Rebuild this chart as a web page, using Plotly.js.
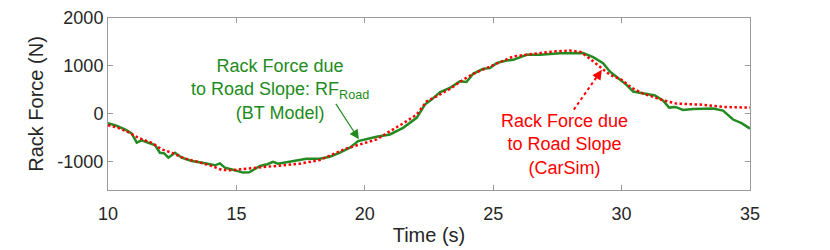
<!DOCTYPE html>
<html>
<head>
<meta charset="utf-8">
<script src="https://cdn.plot.ly/plotly-3.0.1.min.js"></script>
<style>html,body{margin:0;padding:0;background:#fff;}#chart{width:830px;height:250px;}</style>
</head>
<body>
<div id="chart"></div>
<script>
// BT Model rack force (green, solid)
const timeBT = [10.0, 10.3, 10.66, 10.92, 11.12, 11.31, 11.57, 11.83, 12.02, 12.19, 12.35, 12.61, 12.87, 13.26, 13.78, 14.16, 14.36, 14.55, 14.94, 15.26, 15.5, 15.79, 15.92, 16.2, 16.43, 16.62, 17.08, 17.21, 17.73, 18.25, 18.64, 19.03, 19.42, 19.74, 20.07, 20.46, 20.98, 21.49, 22.02, 22.34, 22.6, 22.92, 23.31, 23.7, 23.96, 24.22, 24.61, 24.87, 25.13, 25.52, 25.78, 26.3, 26.82, 27.6, 28.5, 28.89, 29.28, 29.54, 29.75, 29.93, 30.19, 30.45, 30.97, 31.3, 31.62, 31.85, 32.1, 32.39, 32.78, 33.56, 33.95, 34.34, 34.67, 35.0];
const forceBT = [-200, -250, -333, -417, -610, -562, -610, -660, -820, -833, -923, -820, -923, -993, -1042, -1083, -1042, -1132, -1187, -1236, -1230, -1146, -1097, -1060, -1010, -1049, -1007, -993, -944, -944, -903, -819, -715, -576, -528, -486, -437, -299, -90, 187, 292, 444, 535, 674, 660, 833, 937, 951, 1055, 1111, 1125, 1229, 1229, 1264, 1265, 1181, 1056, 881, 790, 720, 600, 460, 417, 380, 270, 125, 139, 75, 97, 104, 62, -125, -200, -315];

// CarSim rack force (red, dotted)
const timeCS = [10.0, 10.4, 10.79, 11.18, 11.7, 12.09, 12.48, 13.0, 13.52, 14.04, 14.43, 14.82, 15.14, 15.92, 16.7, 17.47, 18.25, 18.77, 19.29, 19.81, 20.46, 20.98, 21.49, 22.02, 22.41, 22.8, 23.31, 23.83, 24.22, 24.74, 25.39, 25.78, 26.56, 27.34, 27.98, 28.4, 28.76, 29.2, 29.54, 30.0, 30.4, 30.84, 31.62, 32.14, 33.05, 33.95, 34.47, 35.0];
const forceCS = [-243, -299, -389, -507, -611, -750, -819, -944, -1014, -1097, -1180, -1187, -1167, -1132, -1097, -1049, -972, -854, -729, -646, -542, -368, -208, -21, 257, 361, 514, 708, 833, 951, 1111, 1194, 1250, 1298, 1319, 1290, 1150, 951, 812, 708, 535, 417, 278, 208, 187, 139, 139, 125];

const xTicks = [10, 15, 20, 25, 30, 35];
const xTickText = ['10', '15', '20', '25', '30', '35'];
const yTicks = [-1000, 0, 1000, 2000];
const yTickText = ['-1000', '0', '1000', '2000'];

const GREEN = 'rgb(34,139,34)';
const RED = 'rgb(255,0,0)';
const FONT = 'Liberation Sans, Arial, Helvetica, sans-serif';

const traces = [
  {x: timeBT, y: forceBT, type: 'scatter', mode: 'lines',
   line: {color: GREEN, width: 2.5}, hoverinfo: 'skip'},
  {x: timeCS, y: forceCS, type: 'scatter', mode: 'lines',
   line: {color: RED, width: 2.5, dash: '2.5px,2.5px'}, hoverinfo: 'skip'}
];

const axisCommon = {
  showgrid: false, zeroline: false, showline: true, mirror: 'ticks',
  linecolor: '#9a9a9a', linewidth: 1, ticks: 'inside', ticklen: 5,
  tickcolor: '#9a9a9a', tickfont: {family: FONT, size: 18, color: '#262626'}
};

const layout = {
  width: 830, height: 250,
  margin: {l: 108, r: 80, t: 18, b: 60},
  paper_bgcolor: '#fff', plot_bgcolor: '#fff',
  showlegend: false,
  font: {family: FONT},
  xaxis: Object.assign({}, axisCommon, {
    range: [10, 35], tickvals: xTicks, ticktext: xTickText, ticklabelstandoff: 7,
    title: {text: 'Time (s)', font: {family: FONT, size: 20, color: '#262626'}, standoff: 5}
  }),
  yaxis: Object.assign({}, axisCommon, {
    range: [-1600, 2000], tickvals: yTicks, ticktext: yTickText,
    title: {text: 'Rack Force (N)', font: {family: FONT, size: 20, color: '#262626'}, standoff: 8}
  }),
  shapes: [
    {type: 'line', xref: 'x', yref: 'y', x0: 28.14, y0: 83, x1: 29.05, y1: 780,
     line: {color: RED, width: 2, dash: 'dot'}}
  ],
  annotations: [
    {x: 16.7, y: 500, xref: 'x', yref: 'y', xanchor: 'center', yanchor: 'middle',
     text: 'Rack Force due<br>to Road Slope: RF<sub>Road</sub><br>(BT Model)',
     showarrow: false, align: 'center', font: {family: FONT, size: 18, color: GREEN}},
    {x: 19.77, y: -540, xref: 'x', yref: 'y', ax: -24, ay: -37, text: '',
     showarrow: true, arrowhead: 2, arrowsize: 1.6, arrowwidth: 1.2, arrowcolor: GREEN},
    {x: 27.79, y: -646, xref: 'x', yref: 'y', xanchor: 'center', yanchor: 'middle',
     text: 'Rack Force due<br>to Road Slope<br>(CarSim)',
     showarrow: false, align: 'center', font: {family: FONT, size: 18, color: RED}},
    {x: 29.23, y: 917, xref: 'x', yref: 'y', ax: -6, ay: 9, text: '',
     showarrow: true, arrowhead: 2, arrowsize: 1.3, arrowwidth: 1.5, arrowcolor: RED}
  ]
};

Plotly.newPlot('chart', traces, layout, {staticPlot: true, displayModeBar: false});
</script>
</body>
</html>
